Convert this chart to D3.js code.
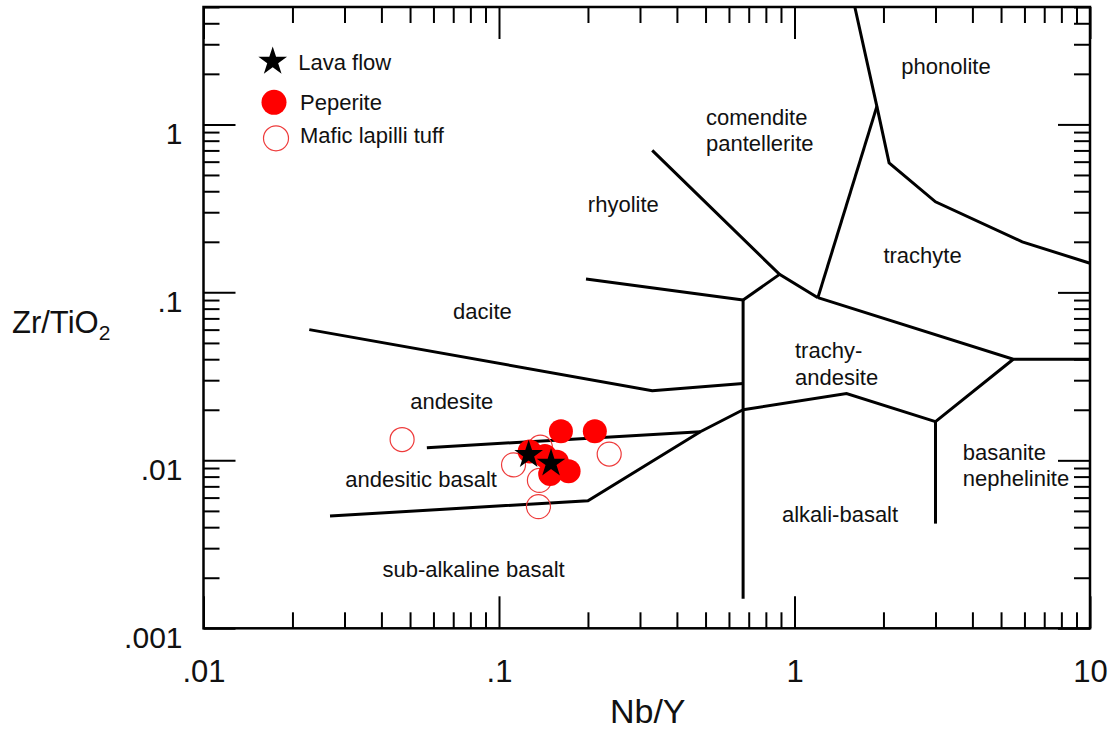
<!DOCTYPE html>
<html>
<head>
<meta charset="utf-8">
<script src="https://cdn.jsdelivr.net/npm/d3@7"></script>
<style>
  html, body { margin: 0; padding: 0; background: #fff; }
  svg { display: block; font-family: "Liberation Sans", Arial, Helvetica, sans-serif; }
</style>
</head>
<body>
<svg id="chart" width="1117" height="730"></svg>
<script>
// Zr/TiO2 vs Nb/Y classification (Winchester & Floyd style), log-log axes.

const xTickValues = [0.01, 0.1, 1, 10];
const xTickLabels = [".01", ".1", "1", "10"];
const yTickValues = [0.001, 0.01, 0.1, 1];
const yTickLabels = [".001", ".01", ".1", "1"];

// Field boundaries: [Nb/Y, Zr/TiO2]
const phonoliteBoundary   = [[1.6, 5.0], [1.9, 1.28], [2.09, 0.59], [3.0, 0.346], [5.9, 0.2], [10, 0.149]];
const trachyteLeft        = [[1.9, 1.28], [1.2, 0.093]];
const trachyteLower       = [[1.2, 0.093], [5.5, 0.04], [10, 0.04]];
const rhyoliteComendite   = [[0.33, 0.70], [0.89, 0.128], [1.2, 0.093]];
const rhyoliteJoin        = [[0.89, 0.128], [0.67, 0.09]];
const rhyoliteDacite      = [[0.197, 0.12], [0.67, 0.09]];
const subalkalineAlkaline = [[0.67, 0.09], [0.67, 0.0015]];
const daciteAndesite      = [[0.0228, 0.06], [0.33, 0.026], [0.67, 0.0287]];
const trachyandesiteBase  = [[0.67, 0.02], [1.5, 0.025], [3.0, 0.017], [5.5, 0.04]];
const basaniteLeft        = [[3.0, 0.017], [3.0, 0.0042]];
const andesiteBasalt      = [[0.057, 0.0119], [0.48, 0.0148]];
const basaltBoundary      = [[0.0268, 0.00466], [0.2, 0.00575], [0.48, 0.0148], [0.67, 0.02]];

const boundaries = [phonoliteBoundary, trachyteLeft, trachyteLower, rhyoliteComendite,
  rhyoliteJoin, rhyoliteDacite, subalkalineAlkaline, daciteAndesite,
  trachyandesiteBase, basaniteLeft, andesiteBasalt, basaltBoundary];

// Field names and where they sit [Nb/Y, Zr/TiO2]
const fieldNames   = ["phonolite", "comendite", "pantellerite", "trachyte", "rhyolite", "dacite",
  "andesite", "trachy-", "andesite", "basanite", "nephelinite", "alkali-basalt",
  "andesitic basalt", "sub-alkaline basalt"];
const fieldNbY     = [3.256, 0.5017, 0.5017, 2.712, 0.2634, 0.0879, 0.0692, 1.004, 1.004, 3.709, 3.709, 1.426, 0.0545, 0.082];
const fieldZrTi    = [1.992, 0.9904, 0.6966, 0.1488, 0.3018, 0.0694, 0.0201, 0.0405, 0.02807, 0.01004, 0.00703, 0.00431, 0.00696, 0.00203];
const fieldAnchor  = ["middle", "start", "start", "middle", "middle", "middle", "middle", "start", "start", "start", "start", "middle", "middle", "middle"];

// Samples
const lavaNbY       = [0.126, 0.15];
const lavaZrTi      = [0.0108, 0.0096];
const peperiteNbY   = [0.162, 0.211, 0.127, 0.143, 0.157, 0.149, 0.172];
const peperiteZrTi  = [0.0149, 0.0149, 0.0113, 0.0106, 0.0098, 0.0083, 0.0086];
const tuffNbY       = [0.047, 0.138, 0.112, 0.137, 0.136, 0.236];
const tuffZrTi      = [0.0133, 0.012, 0.0094, 0.0076, 0.0053, 0.0109];

const legendLabels = ["Lava flow", "Peperite", "Mafic lapilli tuff"];

const svg = d3.select("#chart");
const plotLeft = 203.5, plotRight = 1090, plotTop = 7, plotBottom = 628.3;

const x = d3.scaleLog().domain([0.01, 10]).range([plotLeft, plotRight]);
const y = d3.scaleLog().domain([0.001, 5]).range([plotBottom, plotTop]);

svg.append("rect").attr("width", 1117).attr("height", 730).attr("fill", "#fff");

const isMajor = v => Math.abs(Math.log10(v) - Math.round(Math.log10(v))) < 1e-6;
const xMinor = x.ticks().filter(v => !isMajor(v));
const yMinor = y.ticks().filter(v => !isMajor(v) && v <= 5);

const minorLen = 16, majorLen = 32;

function styleAxis(g) {
  g.select(".domain").remove();
  g.selectAll(".tick line").attr("stroke", "#000").attr("stroke-width", 2);
}

// bottom
svg.append("g").attr("transform", `translate(0,${plotBottom})`)
  .call(d3.axisBottom(x).tickValues(xMinor).tickSize(-minorLen).tickFormat(""))
  .call(styleAxis);
svg.append("g").attr("transform", `translate(0,${plotBottom})`)
  .call(d3.axisBottom(x).tickValues(xTickValues).tickSize(-majorLen).tickPadding(32)
    .tickFormat((d, i) => xTickLabels[i]))
  .call(styleAxis)
  .call(g => g.selectAll("text").attr("font-size", 31).attr("fill", "#111")
    .attr("font-family", "Liberation Sans, Arial, sans-serif"));
// top
svg.append("g").attr("transform", `translate(0,${plotTop})`)
  .call(d3.axisTop(x).tickValues(xMinor).tickSize(-minorLen).tickFormat(""))
  .call(styleAxis);
svg.append("g").attr("transform", `translate(0,${plotTop})`)
  .call(d3.axisTop(x).tickValues(xTickValues).tickSize(-majorLen).tickFormat(""))
  .call(styleAxis);
// left
svg.append("g").attr("transform", `translate(${plotLeft},0)`)
  .call(d3.axisLeft(y).tickValues(yMinor).tickSize(-minorLen).tickFormat(""))
  .call(styleAxis);
svg.append("g").attr("transform", `translate(${plotLeft},0)`)
  .call(d3.axisLeft(y).tickValues(yTickValues).tickSize(-majorLen).tickPadding(21)
    .tickFormat((d, i) => yTickLabels[i]))
  .call(styleAxis)
  .call(g => g.selectAll("text").attr("font-size", 30).attr("fill", "#111").attr("dy", "0.64em")
    .attr("font-family", "Liberation Sans, Arial, sans-serif"));
// right
svg.append("g").attr("transform", `translate(${plotRight},0)`)
  .call(d3.axisRight(y).tickValues(yMinor).tickSize(-minorLen).tickFormat(""))
  .call(styleAxis);
svg.append("g").attr("transform", `translate(${plotRight},0)`)
  .call(d3.axisRight(y).tickValues(yTickValues).tickSize(-majorLen).tickFormat(""))
  .call(styleAxis);

// frame
svg.append("rect")
  .attr("x", plotLeft).attr("y", plotTop)
  .attr("width", plotRight - plotLeft).attr("height", plotBottom - plotTop)
  .attr("fill", "none").attr("stroke", "#000").attr("stroke-width", 2.5);

// axis titles
svg.append("text").attr("x", (plotLeft + plotRight) / 2 + 1).attr("y", 722.7)
  .attr("text-anchor", "middle").attr("font-size", 34).attr("fill", "#111").text("Nb/Y");
const yt = svg.append("text").attr("x", 12).attr("y", 333).attr("font-size", 31).attr("fill", "#111");
yt.append("tspan").text("Zr/TiO");
yt.append("tspan").attr("font-size", 21).attr("dy", 7).text("2");

// boundaries
const line = d3.line().x(d => x(d[0])).y(d => y(d[1]));
svg.append("g").selectAll("path").data(boundaries).join("path")
  .attr("d", line).attr("fill", "none").attr("stroke", "#000")
  .attr("stroke-width", 3).attr("stroke-linejoin", "miter");

// field labels
svg.append("g").selectAll("text").data(fieldNames).join("text")
  .attr("x", (d, i) => x(fieldNbY[i])).attr("y", (d, i) => y(fieldZrTi[i]))
  .attr("text-anchor", (d, i) => fieldAnchor[i])
  .attr("font-size", 22).attr("fill", "#111").text(d => d);

// samples
const red = "#ff0000";
const star = d3.symbol().type(d3.symbolStar).size(255);

svg.append("g").selectAll("circle").data(tuffNbY).join("circle")
  .attr("cx", (d, i) => x(d)).attr("cy", (d, i) => y(tuffZrTi[i])).attr("r", 12)
  .attr("fill", "none").attr("stroke", "#ee3b3b").attr("stroke-width", 1.2);

svg.append("g").selectAll("circle").data(peperiteNbY).join("circle")
  .attr("cx", (d, i) => x(d)).attr("cy", (d, i) => y(peperiteZrTi[i])).attr("r", 12)
  .attr("fill", red);

svg.append("g").selectAll("path").data(lavaNbY).join("path")
  .attr("d", star)
  .attr("transform", (d, i) => `translate(${x(d)},${y(lavaZrTi[i])})`)
  .attr("fill", "#000");

// legend
const lg = svg.append("g");
lg.append("path").attr("d", star).attr("transform", "translate(272.7,61.5)").attr("fill", "#000");
lg.append("circle").attr("cx", 274).attr("cy", 102.3).attr("r", 12.5).attr("fill", red);
lg.append("circle").attr("cx", 276).attr("cy", 138.3).attr("r", 12.5)
  .attr("fill", "none").attr("stroke", "#ee3b3b").attr("stroke-width", 1.2);
const legendBaselines = [70, 110, 143.3];
const legendLeft = [298.3, 300, 300];
lg.selectAll("text").data(legendLabels).join("text")
  .attr("x", (d, i) => legendLeft[i]).attr("y", (d, i) => legendBaselines[i])
  .attr("font-size", 22).attr("fill", "#111").text(d => d);
</script>
</body>
</html>
